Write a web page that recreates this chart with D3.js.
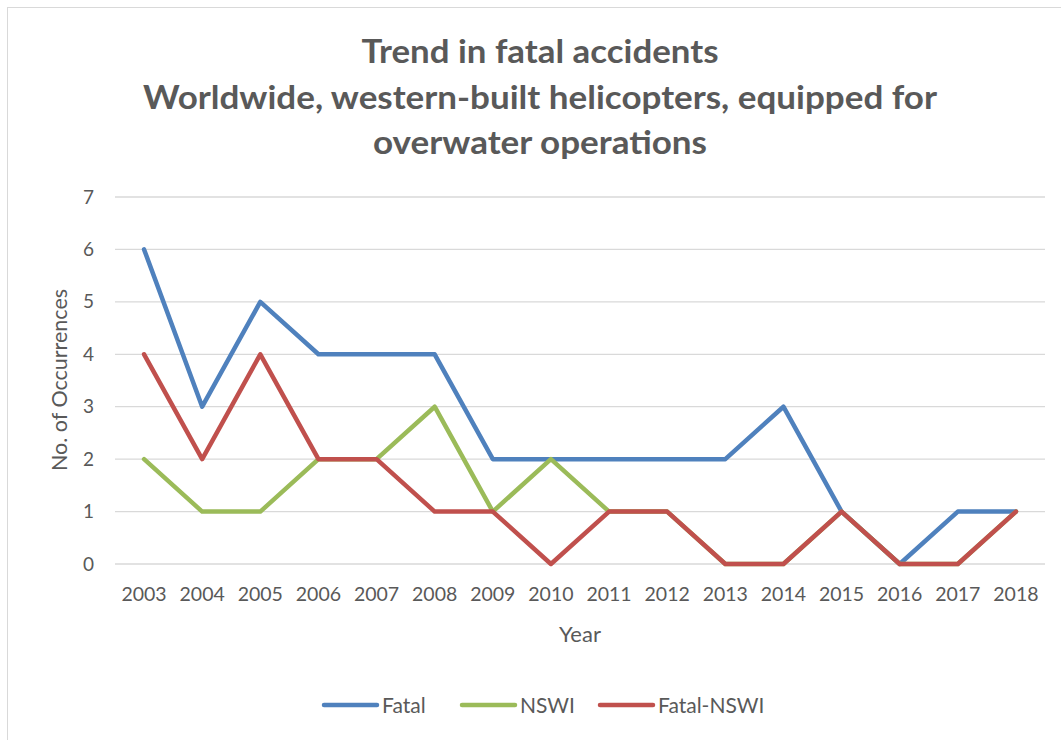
<!DOCTYPE html>
<meta charset="utf-8">
<style>
body { margin: 0; background: #fff; }
svg text { font-family: Lato, "Open Sans", sans-serif; fill: #595959; }
.grid line { stroke: #d9d9d9; stroke-width: 1.3px; }
.axis path, .axis line { display: none; }
</style>
<body>
<script src="https://d3js.org/d3.v7.min.js"></script>
<script>
  var years = ["2003","2004","2005","2006","2007","2008","2009","2010","2011","2012","2013","2014","2015","2016","2017","2018"];
  var fatal = [6,3,5,4,4,4,2,2,2,2,2,3,1,0,1,1];
  var nswi = [2,1,1,2,2,3,1,2,1,1,0,0,1,0,0,1];
  var fatalNswi = [4,2,4,2,2,1,1,0,1,1,0,0,1,0,0,1];
  var yTicks = [0,1,2,3,4,5,6,7];
  var seriesNames = ["Fatal", "NSWI", "Fatal-NSWI"];
  var colors = ["#4f81bd", "#9bbb59", "#c0504d"];

  var W = 1061, H = 740;
  var svg = d3.select("body").append("svg").attr("width", W).attr("height", H);

  // chart frame
  svg.append("rect").attr("x", 7.5).attr("y", 7.5).attr("width", W - 6).attr("height", H)
    .attr("fill", "none").attr("stroke", "#d9d9d9");

  // title
  var title = ["Trend in fatal accidents", "Worldwide, western-built helicopters, equipped for", "overwater operations"];
  svg.selectAll(".title").data(title).enter().append("text")
    .attr("x", 540).attr("y", function(d, i) { return 63 + i * 45.5; })
    .attr("text-anchor", "middle").style("font-size", "32px").style("font-weight", "bold")
    .attr("textLength", function(d, i) { return [357, 794, 334][i]; })
    .attr("lengthAdjust", "spacingAndGlyphs")
    .text(function(d) { return d; });

  var x = d3.scaleBand().domain(years).range([115, 1045]);
  var y = d3.scaleLinear().domain([0, 7]).range([564, 197]);

  // gridlines
  svg.append("g").attr("class", "grid").selectAll("line").data(yTicks).enter().append("line")
    .attr("x1", 115).attr("x2", 1045)
    .attr("y1", function(d) { return y(d); }).attr("y2", function(d) { return y(d); });

  // axes
  svg.append("g").attr("class", "axis").attr("transform", "translate(94,0)")
    .call(d3.axisLeft(y).tickValues(yTicks).tickFormat(d3.format("d")).tickSize(0).tickPadding(0))
    .selectAll("text").style("font-size", "19px").style("font-family", "Lato, sans-serif").attr("fill", "#595959");
  svg.append("g").attr("class", "axis").attr("transform", "translate(0,587)")
    .call(d3.axisBottom(x).tickSize(0).tickPadding(0))
    .selectAll("text").style("font-size", "19.5px").style("font-family", "Lato, sans-serif").attr("fill", "#595959");

  // axis titles
  svg.append("text").attr("transform", "translate(67,380) rotate(-90)")
    .attr("text-anchor", "middle").style("font-size", "21.5px").text("No. of Occurrences");
  svg.append("text").attr("x", 580).attr("y", 642)
    .attr("text-anchor", "middle").style("font-size", "22px").text("Year");

  // lines
  var series = [fatal, nswi, fatalNswi];
  var line = d3.line()
    .x(function(d, i) { return x(years[i]) + x.bandwidth() / 2; })
    .y(function(d) { return y(d); });
  svg.selectAll(".series").data(series).enter().append("path")
    .attr("d", line).attr("fill", "none")
    .attr("stroke", function(d, i) { return colors[i]; })
    .attr("stroke-width", 4.5).attr("stroke-linejoin", "round").attr("stroke-linecap", "round");

  // legend
  var legendX = [322, 460, 598];
  var lg = svg.selectAll(".legend").data(seriesNames).enter().append("g")
    .attr("transform", function(d, i) { return "translate(" + legendX[i] + ",705)"; });
  lg.append("line").attr("x1", 2).attr("x2", 55).attr("y1", 0).attr("y2", 0)
    .attr("stroke", function(d, i) { return colors[i]; })
    .attr("stroke-width", 4.5).attr("stroke-linecap", "round");
  lg.append("text").attr("x", 60).attr("y", 7.5).style("font-size", "21px").text(function(d) { return d; });
</script>
</body>
